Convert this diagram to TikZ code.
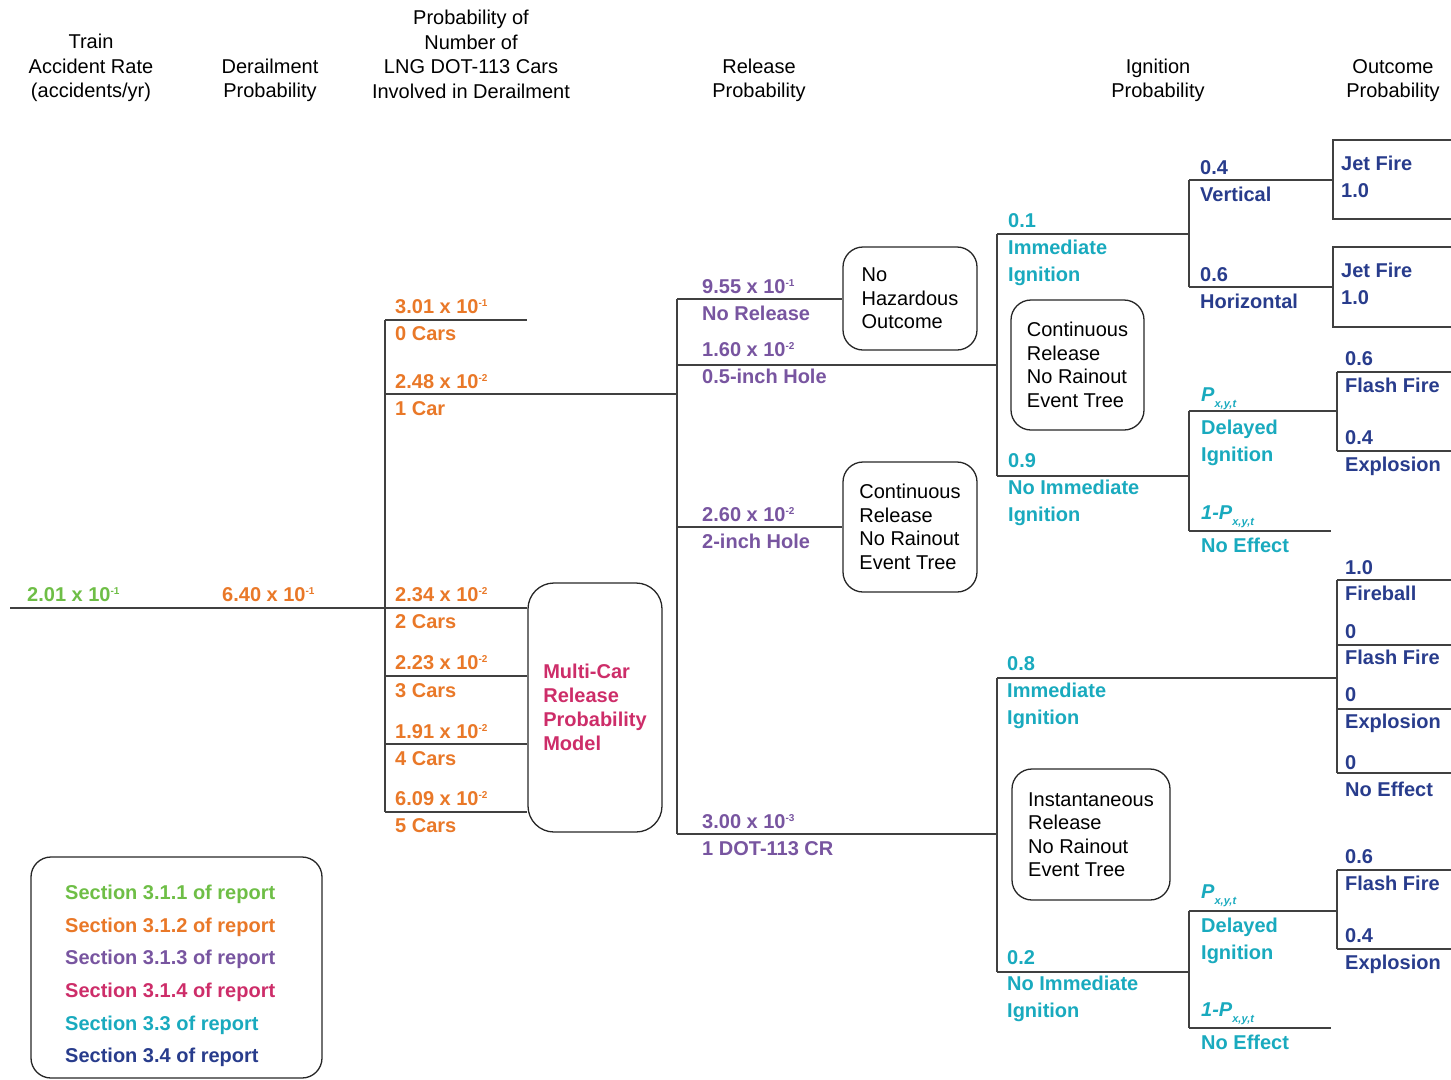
\documentclass[tikz,border=0pt]{standalone}
\usepackage{fontspec}
\setmainfont{Liberation Sans}
\definecolor{cgreen}{RGB}{110,190,70}
\definecolor{corange}{RGB}{233,120,40}
\definecolor{cpurple}{RGB}{120,85,160}
\definecolor{cpink}{RGB}{205,45,105}
\definecolor{ccyan}{RGB}{25,170,190}
\definecolor{cblue}{RGB}{40,60,140}
\newcommand\supx[1]{\raisebox{7pt}{\fontsize{10}{10}\selectfont #1}}
\newcommand\subx[1]{\raisebox{-6pt}{\fontsize{11}{11}\selectfont\itshape #1}}
\newcommand\Pxyt{\textit{P}\subx{x,y,t}}
\tikzset{
  lbl/.style={font=\fontsize{20}{27}\selectfont\bfseries, anchor=base west, inner sep=0pt, align=left},
  hdr/.style={font=\fontsize{20}{24.5}\selectfont, align=center, inner sep=0pt},
  rbox/.style={draw=black!85, line width=1.3pt, rounded corners=20pt, font=\fontsize{20}{23.5}\selectfont, align=left, inner sep=0pt},
  br/.style={draw=black!75, line width=1.5pt},
}
\begin{document}
\begin{tikzpicture}[x=1pt,y=-1pt]
\useasboundingbox (0,0) rectangle (1451,1079);
% headers
\node[hdr] (h1) at (91,68) {Train\\Accident Rate\\(accidents/yr)};
\node[hdr] (h2) at (270,80.5) {Derailment\\Probability};
\node[hdr] (h3) at (471,54.5) {Probability of\\Number of\\LNG DOT-113 Cars\\Involved in Derailment};
\node[hdr] (h4) at (759,80.5) {Release\\Probability};
\node[hdr] (h5) at (1158,80.5) {Ignition\\Probability};
\node[hdr] (h6) at (1393,80.5) {Outcome\\Probability};
% boxes
\node[rbox, minimum width=134, minimum height=103] (nho) at (910,298.5) {No\\Hazardous\\Outcome};
\node[rbox, minimum width=134, minimum height=130] (crm) at (910,527) {Continuous\\Release\\No Rainout\\Event Tree};
\node[rbox, minimum width=133, minimum height=130] (cru) at (1077.5,365) {Continuous\\Release\\No Rainout\\Event Tree};
\node[rbox, minimum width=158, minimum height=131] (inst) at (1091,834.5) {Instantaneous\\Release\\No Rainout\\Event Tree};
\node[rbox, rounded corners=26pt, minimum width=134, minimum height=249, text=cpink, font=\fontsize{20}{24}\selectfont\bfseries] (mc) at (595,707.5) {Multi-Car\\Release\\Probability\\Model};
\node[rbox, minimum width=291, minimum height=221] (leg) at (176.5,967.5) {};
\node[inner sep=0pt, anchor=west, align=left, font=\fontsize{20}{32.6}\selectfont\bfseries] (legtxt) at (65,976) {\textcolor{cgreen}{Section 3.1.1 of report}\\\textcolor{corange}{Section 3.1.2 of report}\\\textcolor{cpurple}{Section 3.1.3 of report}\\\textcolor{cpink}{Section 3.1.4 of report}\\\textcolor{ccyan}{Section 3.3 of report}\\\textcolor{cblue}{Section 3.4 of report}};
% coordinates
\coordinate (a0) at (10,608);
\coordinate (a1) at (385,608);
\coordinate (c0) at (385,320);
\coordinate (c1) at (385,394);
\coordinate (c3) at (385,676);
\coordinate (c4) at (385,744);
\coordinate (c5) at (385,812);
\coordinate (c0e) at (527,320);
\coordinate (r1) at (677,394);
\coordinate (rt) at (677,299);
\coordinate (r05) at (677,365);
\coordinate (r2) at (677,527);
\coordinate (rb) at (677,834);
\coordinate (u1) at (997,365);
\coordinate (ut) at (997,234);
\coordinate (ub) at (997,476);
\coordinate (v0) at (1189,234);
\coordinate (vt) at (1189,180);
\coordinate (vb) at (1189,287);
\coordinate (jf1) at (1333,180);
\coordinate (jf2) at (1333,287);
\coordinate (w0) at (1189,476);
\coordinate (wt) at (1189,411);
\coordinate (wb) at (1189,531);
\coordinate (x0) at (1337,411);
\coordinate (x1) at (1337,372);
\coordinate (x2) at (1337,451);
\coordinate (we) at (1331,531);
\coordinate (l0) at (997,834);
\coordinate (lt) at (997,678);
\coordinate (lb) at (997,972);
\coordinate (m0) at (1337,678);
\coordinate (m1) at (1337,580);
\coordinate (m2) at (1337,645);
\coordinate (m3) at (1337,709);
\coordinate (m4) at (1337,773);
\coordinate (n0) at (1189,972);
\coordinate (nt) at (1189,911);
\coordinate (nb) at (1189,1028);
\coordinate (y0) at (1337,911);
\coordinate (y1) at (1337,870);
\coordinate (y2) at (1337,949);
\coordinate (ne) at (1331,1028);
\coordinate (E) at (1451,0);
% tree lines
\draw[br] (a0) -- (a1);
\draw[br] (c0) -- (c5);
\draw[br] (c0) -- (c0e);
\draw[br] (c1) -- (r1);
\draw[br] (a1) -- (mc.west |- a1);
\draw[br] (c3) -- (mc.west |- c3);
\draw[br] (c4) -- (mc.west |- c4);
\draw[br] (c5) -- (mc.west |- c5);
\draw[br] (rt) -- (rb);
\draw[br] (rt) -- (nho.west |- rt);
\draw[br] (r05) -- (u1);
\draw[br] (r2) -- (crm.west |- r2);
\draw[br] (rb) -- (l0);
\draw[br] (ut) -- (ub);
\draw[br] (ut) -- (v0);
\draw[br] (vt) -- (vb);
\draw[br] (vt) -- (jf1);
\draw[br] (vb) -- (jf2);
\draw[br] (E |- 0,140) -- (1333,140) -- (1333,219) -- (E |- 0,219);
\draw[br] (E |- 0,247) -- (1333,247) -- (1333,327) -- (E |- 0,327);
\draw[br] (ub) -- (w0);
\draw[br] (wt) -- (wb);
\draw[br] (wt) -- (x0);
\draw[br] (wb) -- (we);
\draw[br] (x1) -- (x2);
\draw[br] (x1) -- (E |- x1);
\draw[br] (x2) -- (E |- x2);
\draw[br] (lt) -- (lb);
\draw[br] (lt) -- (m0);
\draw[br] (m1) -- (m4);
\draw[br] (m1) -- (E |- m1);
\draw[br] (m2) -- (E |- m2);
\draw[br] (m3) -- (E |- m3);
\draw[br] (m4) -- (E |- m4);
\draw[br] (lb) -- (n0);
\draw[br] (nt) -- (nb);
\draw[br] (nt) -- (y0);
\draw[br] (nb) -- (ne);
\draw[br] (y1) -- (y2);
\draw[br] (y1) -- (E |- y1);
\draw[br] (y2) -- (E |- y2);
% green / orange
\node[lbl, text=cgreen] (t1) at (27,601) {2.01 x 10\supx{-1}};
\node[lbl, text=corange] (t2) at (222,601) {6.40 x 10\supx{-1}};
\node[lbl, text=corange] (o0a) at (395,313) {3.01 x 10\supx{-1}};
\node[lbl, text=corange] (o0b) at (395,340) {0 Cars};
\node[lbl, text=corange] (o1a) at (395,388) {2.48 x 10\supx{-2}};
\node[lbl, text=corange] (o1b) at (395,415) {1 Car};
\node[lbl, text=corange] (o2a) at (395,601) {2.34 x 10\supx{-2}};
\node[lbl, text=corange] (o2b) at (395,628) {2 Cars};
\node[lbl, text=corange] (o3a) at (395,669) {2.23 x 10\supx{-2}};
\node[lbl, text=corange] (o3b) at (395,697) {3 Cars};
\node[lbl, text=corange] (o4a) at (395,738) {1.91 x 10\supx{-2}};
\node[lbl, text=corange] (o4b) at (395,765) {4 Cars};
\node[lbl, text=corange] (o5a) at (395,805) {6.09 x 10\supx{-2}};
\node[lbl, text=corange] (o5b) at (395,832) {5 Cars};
% purple
\node[lbl, text=cpurple] (p0a) at (702,293) {9.55 x 10\supx{-1}};
\node[lbl, text=cpurple] (p0b) at (702,320) {No Release};
\node[lbl, text=cpurple] (p1a) at (702,356) {1.60 x 10\supx{-2}};
\node[lbl, text=cpurple] (p1b) at (702,383) {0.5-inch Hole};
\node[lbl, text=cpurple] (p2a) at (702,521) {2.60 x 10\supx{-2}};
\node[lbl, text=cpurple] (p2b) at (702,548) {2-inch Hole};
\node[lbl, text=cpurple] (p3a) at (702,828) {3.00 x 10\supx{-3}};
\node[lbl, text=cpurple] (p3b) at (702,855) {1 DOT-113 CR};
% cyan (two-line labels: anchor at last baseline)
\node[lbl, text=ccyan] (i1a) at (1008,227) {0.1};
\node[lbl, text=ccyan] (i1b) at (1008,281) {Immediate\\Ignition};
\node[lbl, text=ccyan] (i2a) at (1008,467) {0.9};
\node[lbl, text=ccyan] (i2b) at (1008,521) {No Immediate\\Ignition};
\node[lbl, text=ccyan] (d1a) at (1201,401) {\Pxyt};
\node[lbl, text=ccyan] (d1b) at (1201,461) {Delayed\\Ignition};
\node[lbl, text=ccyan] (d2a) at (1201,519) {\textit{1-}\Pxyt};
\node[lbl, text=ccyan] (d2b) at (1201,552) {No Effect};
\node[lbl, text=ccyan] (i3a) at (1007,670) {0.8};
\node[lbl, text=ccyan] (i3b) at (1007,724) {Immediate\\Ignition};
\node[lbl, text=ccyan] (i4a) at (1007,964) {0.2};
\node[lbl, text=ccyan] (i4b) at (1007,1017) {No Immediate\\Ignition};
\node[lbl, text=ccyan] (d3a) at (1201,898) {\Pxyt};
\node[lbl, text=ccyan] (d3b) at (1201,959) {Delayed\\Ignition};
\node[lbl, text=ccyan] (d4a) at (1201,1016) {\textit{1-}\Pxyt};
\node[lbl, text=ccyan] (d4b) at (1201,1049) {No Effect};
% blue
\node[lbl, text=cblue] (b1a) at (1200,174) {0.4};
\node[lbl, text=cblue] (b1b) at (1200,201) {Vertical};
\node[lbl, text=cblue] (b2a) at (1200,281) {0.6};
\node[lbl, text=cblue] (b2b) at (1200,308) {Horizontal};
\node[lbl, text=cblue] (j1a) at (1341,170) {Jet Fire};
\node[lbl, text=cblue] (j1b) at (1341,197) {1.0};
\node[lbl, text=cblue] (j2a) at (1341,277) {Jet Fire};
\node[lbl, text=cblue] (j2b) at (1341,304) {1.0};
\node[lbl, text=cblue] (k1a) at (1345,365) {0.6};
\node[lbl, text=cblue] (k1b) at (1345,392) {Flash Fire};
\node[lbl, text=cblue] (k2a) at (1345,444) {0.4};
\node[lbl, text=cblue] (k2b) at (1345,471) {Explosion};
\node[lbl, text=cblue] (f1a) at (1345,574) {1.0};
\node[lbl, text=cblue] (f1b) at (1345,600) {Fireball};
\node[lbl, text=cblue] (f2a) at (1345,638) {0};
\node[lbl, text=cblue] (f2b) at (1345,664) {Flash Fire};
\node[lbl, text=cblue] (f3a) at (1345,701) {0};
\node[lbl, text=cblue] (f3b) at (1345,728) {Explosion};
\node[lbl, text=cblue] (f4a) at (1345,769) {0};
\node[lbl, text=cblue] (f4b) at (1345,796) {No Effect};
\node[lbl, text=cblue] (g1a) at (1345,863) {0.6};
\node[lbl, text=cblue] (g1b) at (1345,890) {Flash Fire};
\node[lbl, text=cblue] (g2a) at (1345,942) {0.4};
\node[lbl, text=cblue] (g2b) at (1345,969) {Explosion};
\end{tikzpicture}
\end{document}
